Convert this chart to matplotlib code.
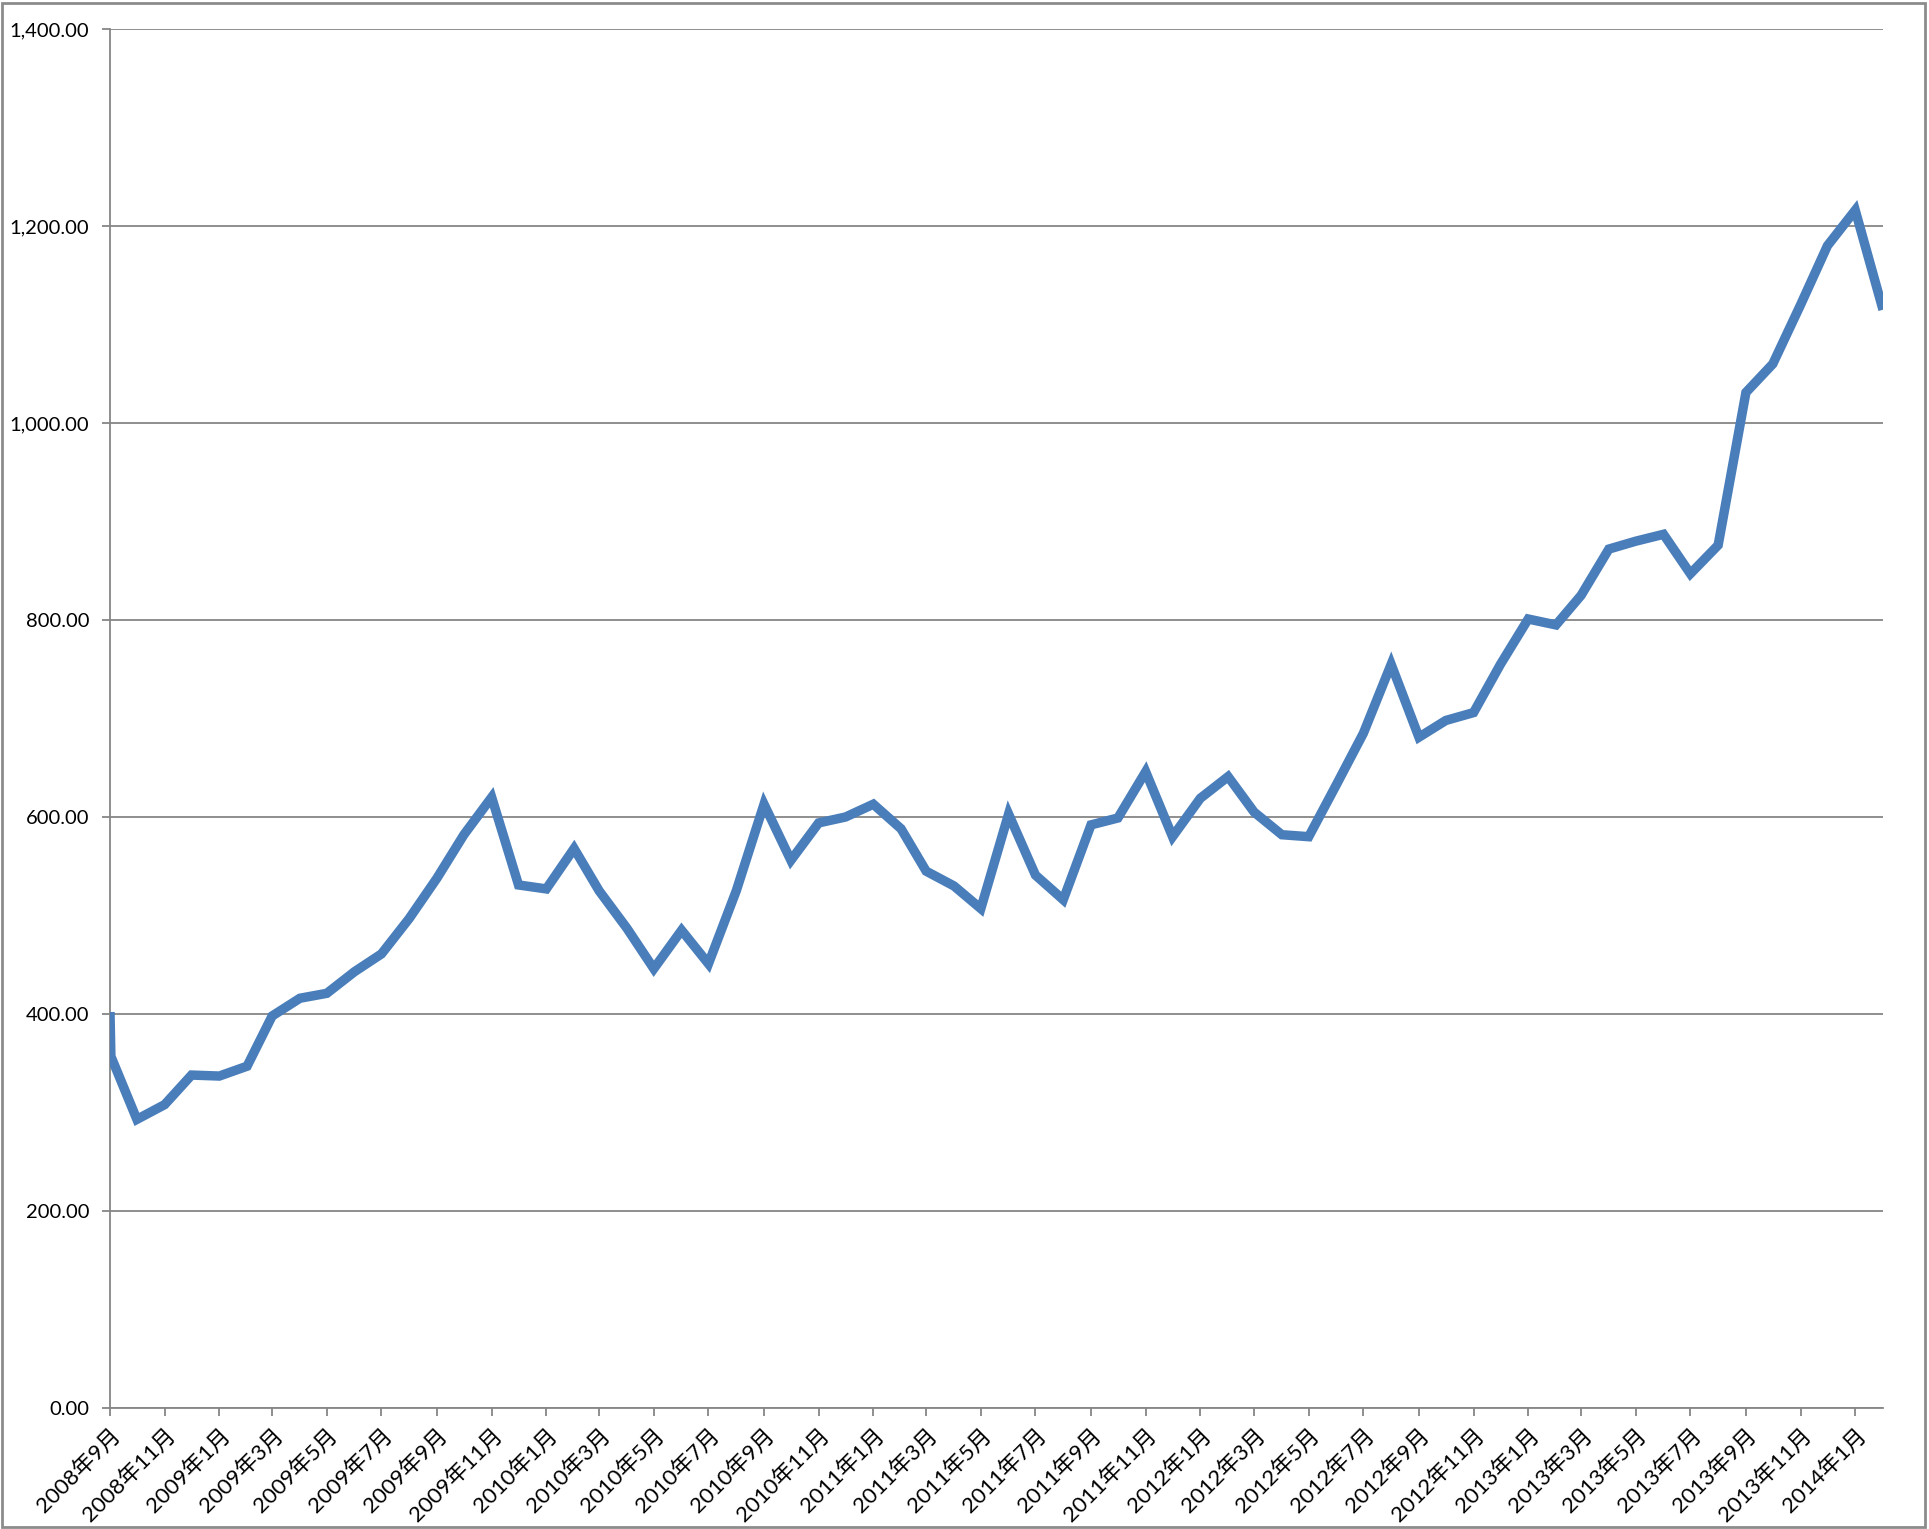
import pandas as pd
import matplotlib.pyplot as plt
from matplotlib.patches import Rectangle
from matplotlib.ticker import FuncFormatter, MultipleLocator

plt.rcParams['font.family'] = ['Lato', 'Noto Sans CJK JP', 'DejaVu Sans']

# first two readings fall on the same month (near-vertical start)
start_dates = ['2008-09-01', '2008-09-02']
start_values = [402, 357]

# monthly readings 2008-10 .. 2014-02
months = pd.date_range('2008-10-01', '2014-02-01', freq='MS')
values = [293, 308, 338, 337, 347, 398, 416, 421, 443, 461,
          497, 538, 582, 620, 531, 527, 568, 525, 487, 446,
          485, 451, 525, 613, 556, 594, 600, 613, 588, 545,
          530, 507, 603, 541, 516, 592, 599, 646, 580, 619,
          641, 605, 582, 580, 633, 685, 755, 681, 698, 706,
          755, 801, 795, 825, 872, 880, 887, 847, 876, 1031,
          1060, 1120, 1180, 1216, 1115]

x = list(pd.to_datetime(start_dates)) + list(months)
y = start_values + values

fig = plt.figure(figsize=(19.29, 15.29), dpi=100)
ax = fig.add_axes([110 / 1929, 1 - 1408 / 1529, (1883 - 110) / 1929, (1408 - 29) / 1529])

ax.plot(x, y, color='#4A7EBB', linewidth=6.8, solid_joinstyle='miter', solid_capstyle='butt', zorder=3)

ax.set_ylim(0, 1400)
ax.set_xlim(pd.Timestamp('2008-09-01'), pd.Timestamp('2014-02-01'))

ax.yaxis.set_major_locator(MultipleLocator(200))
ax.yaxis.set_major_formatter(FuncFormatter(lambda v, p: f'{v:,.2f}'))
ax.grid(axis='y', color='#868686', linewidth=1.3)
ax.set_axisbelow(True)

ticks = pd.date_range('2008-09-01', '2014-01-01', freq='2MS')
ax.set_xticks(ticks)
ax.set_xticklabels([f'{d.year}年{d.month}月' for d in ticks], rotation=45,
                   ha='right', rotation_mode='anchor')

for s in ['top', 'right']:
    ax.spines[s].set_visible(False)
for s in ['left', 'bottom']:
    ax.spines[s].set_color('#868686')
    ax.spines[s].set_linewidth(1.3)

ax.tick_params(axis='both', colors='#868686', labelcolor='black',
               length=6, width=1.3, direction='out')
ax.tick_params(axis='x', pad=6, labelsize=16)
ax.tick_params(axis='y', pad=9, labelsize=14.5)

# outer chart border
fig.patches.append(Rectangle((0.001, 0.001), 0.997, 0.997, transform=fig.transFigure,
                             fill=False, edgecolor='#8c8c8c', linewidth=2))

plt.savefig('out.png', dpi=100)
